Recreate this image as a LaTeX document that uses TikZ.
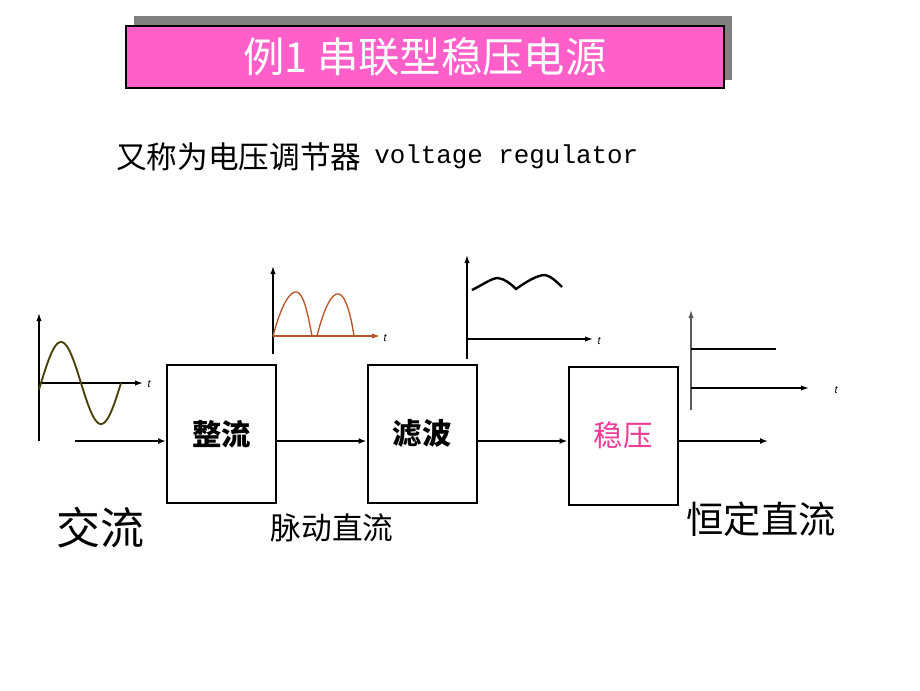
\documentclass[tikz,border=0pt]{standalone}
\usepackage{fontspec}
\setmainfont{Liberation Serif}
\setsansfont{Liberation Sans}
\newfontfamily\cjk{Noto Sans CJK SC}
\newfontfamily\mono{Liberation Mono}
\usetikzlibrary{arrows.meta}
\definecolor{titlepink}{RGB}{255,95,200}
\definecolor{shadowgray}{RGB}{128,128,128}
\definecolor{stabpink}{RGB}{238,60,150}
\definecolor{sinecol}{RGB}{72,66,10}
\definecolor{rectcol}{RGB}{185,85,40}
\definecolor{axisgray}{RGB}{90,90,90}
\tikzset{
  blockbox/.style={draw=black, line width=1.5pt, fill=white, minimum width=81.75pt, minimum height=103.5pt, inner sep=0pt, font=\cjk\bfseries\fontsize{22}{22}\selectfont},
  flow/.style={line width=1.2pt, -{Latex[length=6pt,width=4.5pt]}},
  axis/.style={line width=1pt, -{Latex[length=6pt,width=4pt]}},
  tlabel/.style={font=\sffamily\itshape\fontsize{8}{8}\selectfont, inner sep=0pt},
}
\begin{document}
\begin{tikzpicture}[x=0.75pt,y=-0.75pt]
\useasboundingbox (0,0) rectangle (920,690);
\fill[white] (0,0) rectangle (920,690);

% title
\fill[shadowgray] (134,16) rectangle (732,80);
\node[draw=black, line width=0.9pt, fill=titlepink, minimum width=448.5pt, minimum height=46.5pt, inner sep=0pt,
      text=white, font=\cjk\fontsize{31}{31}\selectfont] (title) at (425,57) {例1 串联型稳压电源};

% subtitle
\node[anchor=west, inner sep=0pt, font=\cjk\fontsize{23}{23}\selectfont] (subcn) at (116,157) {又称为电压调节器};
\node[anchor=west, inner sep=0pt, font=\mono\fontsize{19.4}{19.4}\selectfont] (suben) at (374,157) {voltage regulator};

% blocks
\node[blockbox] (b1) at (221.5,434) {整流};
\node[blockbox] (b2) at (422,434) {滤波};
\node[blockbox, text=stabpink, font=\cjk\fontsize{22}{22}\selectfont] (b3) at (623,435.5) {稳压};

\coordinate (in) at (75,441);
\coordinate (out) at (768,441);
\draw[flow] (in) -- (b1.west |- in);
\draw[flow] (b1.east |- in) -- (b2.west |- in);
\draw[flow] (b2.east |- in) -- (b3.west |- in);
\draw[flow] (b3.east |- in) -- (out);

% AC graph
\draw[axis] (39,441) -- (39,313);
\draw[axis] (39,383) -- (143,383);
\node[tlabel] (t1) at (149,384) {t};
\draw[sinecol, line width=1.4pt] plot[domain=-2:80, samples=60, smooth] ({\x+41}, {383-41*sin(4.5*\x)});

% rectified graph
\draw[axis] (273,354) -- (273,266);
\draw[axis, rectcol] (273,336) -- (380,336);
\node[tlabel] (t2) at (385,338) {t};
\draw[rectcol, line width=1pt] (273,336) .. controls (281,306) and (290,290) .. (297,292) .. controls (304,294) and (308,315) .. (312,336);
\draw[rectcol, line width=1pt] (317,336) .. controls (324,308) and (332,292) .. (339,294) .. controls (346,296) and (351,316) .. (354,336);

% filtered graph
\draw[axis] (467,359) -- (467,255);
\draw[axis] (467,339) -- (593,339);
\node[tlabel] (t3) at (599,341) {t};
\draw[black, line width=1.8pt] (472,290) .. controls (484,284) and (492,278) .. (498,278) .. controls (505,279) and (511,284) .. (516,289)
   .. controls (526,282) and (537,275) .. (545,275) .. controls (551,276) and (557,282) .. (562,287);

% DC graph
\draw[axis, axisgray] (691,410) -- (691,310);
\draw[line width=1.5pt] (691,349) -- (776,349);
\draw[axis] (691,388) -- (809,388);
\node[tlabel] (t4) at (836,390) {t};

% labels
\node[font=\cjk\fontsize{33}{33}\selectfont, inner sep=0pt] (ac) at (100,528) {交流};
\node[font=\cjk\fontsize{23}{23}\selectfont, inner sep=0pt] (pulse) at (332,528) {脉动直流};
\node[font=\cjk\fontsize{28}{28}\selectfont, inner sep=0pt] (dc) at (761,519) {恒定直流};
\end{tikzpicture}
\end{document}
